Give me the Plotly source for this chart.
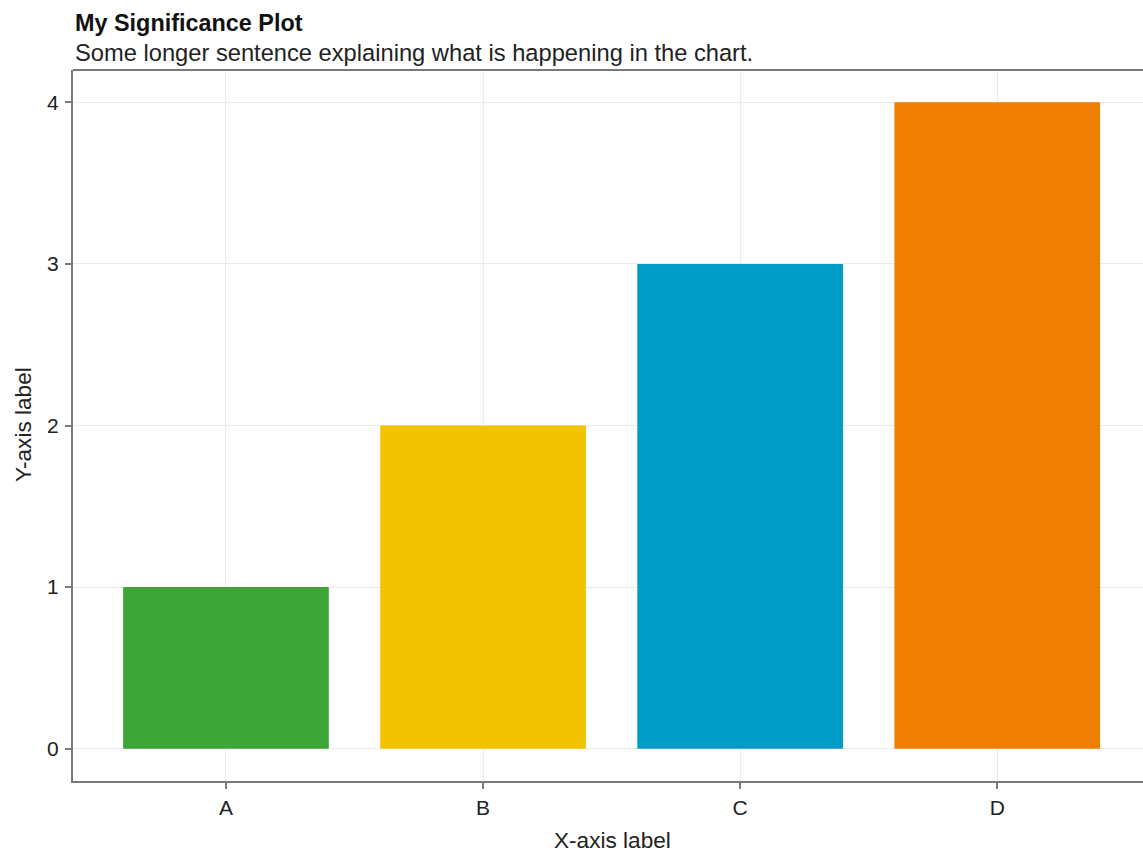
import plotly.graph_objects as go

categories = ["A", "B", "C", "D"]
values = [1, 2, 3, 4]
colors = ["#3EA537", "#F2C300", "#009BC7", "#F07E00"]
y_ticks = [0, 1, 2, 3, 4]

title = "My Significance Plot"
subtitle = "Some longer sentence explaining what is happening in the chart."
x_label = "X-axis label"
y_label = "Y-axis label"

FONT = "Liberation Sans, Arial, sans-serif"

fig = go.Figure(go.Bar(x=categories, y=values, marker=dict(color=colors, line=dict(width=0)),
                       width=0.8))

fig.update_layout(
    width=1143, height=856,
    margin=dict(l=73, r=0, t=70, b=75),
    paper_bgcolor="white", plot_bgcolor="white",
    font=dict(family=FONT, size=21, color="#222"),
    showlegend=False,
)
fig.update_xaxes(
    range=[-0.595, 3.567],
    showline=True, linecolor="#7a7a7a", linewidth=2, mirror=False,
    showgrid=True, gridcolor="#ebebeb", gridwidth=1,
    ticks="outside", ticklen=6, tickcolor="#7a7a7a", tickwidth=2,
    tickfont=dict(size=21, color="#222"), ticklabelstandoff=1,
    zeroline=False,
)
fig.update_yaxes(
    range=[-0.2, 4.2], tickvals=y_ticks,
    showline=True, linecolor="#7a7a7a", linewidth=2,
    showgrid=True, gridcolor="#ebebeb", gridwidth=1,
    ticks="outside", ticklen=6, tickcolor="#7a7a7a", tickwidth=2,
    tickfont=dict(size=21, color="#222"), ticklabelstandoff=2,
    zeroline=False,
)
# top border line
fig.add_shape(type="line", xref="paper", yref="paper", x0=0, x1=1, y0=1, y1=1,
              line=dict(color="#7a7a7a", width=2))

fig.add_annotation(text="<b>" + title + "</b>", xref="paper", yref="paper", x=0, y=1,
                   xanchor="left", yanchor="bottom", yshift=32, xshift=0, showarrow=False,
                   font=dict(size=23.4, color="#111"))
fig.add_annotation(text=subtitle, xref="paper", yref="paper", x=0, y=1,
                   xanchor="left", yanchor="bottom", yshift=2, showarrow=False,
                   font=dict(size=23.7, color="#222"))
fig.add_annotation(text=x_label, xref="paper", yref="paper", x=(612 - 73) / 1070, y=0,
                   xanchor="center", yanchor="top", yshift=-45, showarrow=False,
                   font=dict(size=22.6, color="#222"))
fig.add_annotation(text=y_label, xref="paper", yref="paper", x=0, y=(781 - 425) / 711,
                   xanchor="center", yanchor="middle", xshift=-50, textangle=-90,
                   showarrow=False, font=dict(size=22.6, color="#222"))

fig.write_html("out.html", config={"displayModeBar": False},
               post_script="document.body.style.margin='0';"
               "document.body.style.overflow='hidden';")
